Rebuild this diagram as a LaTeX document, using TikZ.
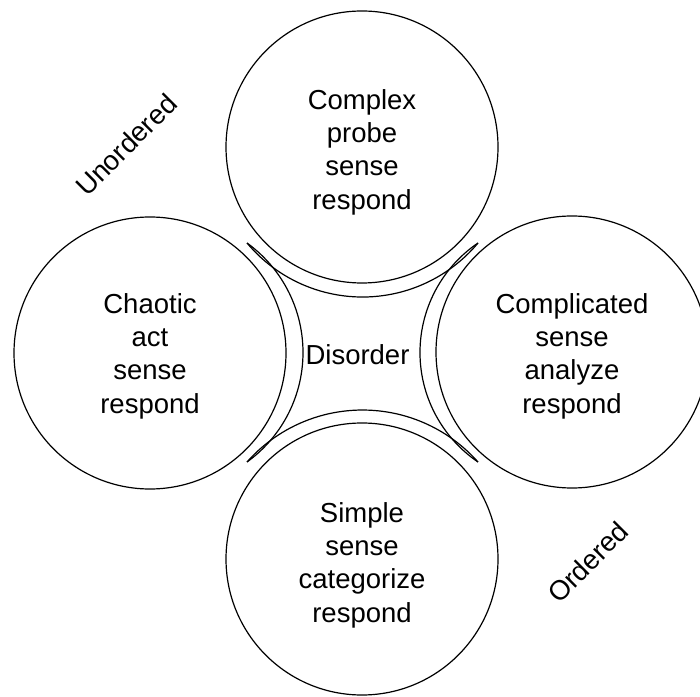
\documentclass[tikz,border=0pt]{standalone}
\usepackage{fontspec}
\setmainfont{Liberation Sans}
\begin{document}
\begin{tikzpicture}[x=1pt,y=1pt,
  zonecircle/.style={circle, draw, line width=1.2pt, minimum size=272pt,
    inner sep=0pt},
  zonetext/.style={align=center, inner sep=0pt,
    font=\fontsize{27.5}{33.3}\selectfont},
  tag/.style={font=\fontsize{27.5}{33}\selectfont, inner sep=0pt},
  border/.style={line width=1.2pt}]
\useasboundingbox (0,0) rectangle (700,696);
\clip (0,0) rectangle (700,696);

% the four domains
\node[zonecircle] (complex)     at (362,549) {};
\node[zonecircle] (chaotic)     at (150,343) {};
\node[zonecircle] (complicated) at (572,344) {};
\node[zonecircle] (simple)      at (362,137) {};

\node[zonetext] (complexTxt)     at ([yshift=-5pt]complex.center)     {Complex\\probe\\sense\\respond};
\node[zonetext] (chaoticTxt)     at ([yshift=-3pt]chaotic.center)     {Chaotic\\act\\sense\\respond};
\node[zonetext] (complicatedTxt) at ([yshift=-4pt]complicated.center) {Complicated\\sense\\analyze\\respond};
\node[zonetext] (simpleTxt)      at ([yshift=-6pt]simple.center)      {Simple\\sense\\categorize\\respond};

% corners of the central region
\coordinate (tl) at (247,453);
\coordinate (tr) at (478,453);
\coordinate (bl) at (247,234);
\coordinate (br) at (478,234);

% concave borders of the central region
\draw[border] (tl) arc[start angle=219.87, end angle=320.13, radius=150.5];
\draw[border] (bl) arc[start angle=138.46, end angle=41.54, radius=154.3];
\draw[border] (tl) arc[start angle=54.17, end angle=-54.17, radius=135.06];
\draw[border] (tr) arc[start angle=124.17, end angle=235.83, radius=132.36];

\node[tag] (disorder) at (357.5,341) {Disorder};

% axis labels
\node[tag, rotate=45] (unordered) at (126,551) {Unordered};
\node[tag, rotate=45] (ordered)   at (588,134) {Ordered};
\end{tikzpicture}
\end{document}
